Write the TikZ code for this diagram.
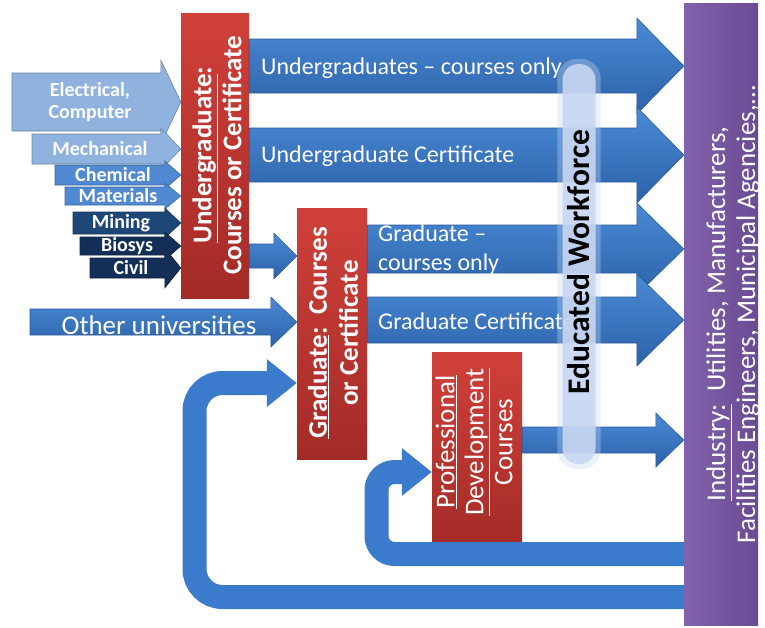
\documentclass[tikz,border=0pt]{standalone}
\usepackage{fontspec}
\setmainfont{Carlito}
\usetikzlibrary{positioning,calc,arrows.meta}
\definecolor{FlowBlue}{HTML}{3A7BCB}
\definecolor{FlowTop}{HTML}{4A8AD6}
\definecolor{FlowBot}{HTML}{2C62A8}
\definecolor{FlowEdge}{HTML}{2A5A98}
\definecolor{RedTop}{HTML}{D0403A}
\definecolor{RedBot}{HTML}{A32B27}
\definecolor{IndLeft}{HTML}{8262AC}
\definecolor{IndRight}{HTML}{6A4A92}
\definecolor{EWBlue}{HTML}{C7D6F1}
\definecolor{DeptLight}{HTML}{8FB2DE}
\definecolor{DeptMid}{HTML}{5089D1}
\definecolor{DeptDark}{HTML}{1E4677}
\definecolor{DeptDeep}{HTML}{132F57}

% tail, tip, body half height, head half height, head length
\newcommand{\blockarrow}[6][]{%
  \path[#1] ($(#2)+(0,#4)$) -- ($(#3)+(-#6,#4)$) -- ($(#3)+(-#6,#5)$) -- (#3)
    -- ($(#3)+(-#6,-#5)$) -- ($(#3)+(-#6,-#4)$) -- ($(#2)+(0,-#4)$) -- cycle;}

\begin{document}
\begin{tikzpicture}[x=1pt, y=-1pt,
  flow/.style={top color=FlowTop, bottom color=FlowBot, draw=FlowEdge, line width=0.6pt},
  dept/.style={fill=#1, draw=#1!75!black, line width=0.6pt},
  depttext/.style={text=white, align=center, inner sep=0pt, font=\fontsize{20}{22}\selectfont\bfseries},
  flowtext/.style={anchor=west, text=white, align=left, inner sep=0pt, font=\fontsize{24}{29}\selectfont},
  redbox/.style={top color=RedTop, bottom color=RedBot, inner sep=0pt},
  boxtext/.style={rotate=90, text=white, align=center, inner sep=0pt},
  feedback/.style={draw=FlowBlue, line width=24pt, rounded corners=28pt, -{Triangle[length=30pt,width=46pt]}}]
  \useasboundingbox (0,0) rectangle (765,627);

  % boxes
  \node[redbox, minimum width=68pt, minimum height=285pt] (ug) at (215,155.5) {};
  \node[redbox, minimum width=70pt, minimum height=251pt] (grad) at (332,333.5) {};
  \node[redbox, minimum width=90pt, minimum height=196pt] (pd) at (477,450) {};
  \node[left color=IndLeft, right color=IndRight, inner sep=0pt, minimum width=74pt, minimum height=622pt] (ind) at (721,314) {};

  % departments into the undergraduate box
  \blockarrow[dept=DeptLight]{12,102}{ug.west |- 0,102}{29}{42}{20}
  \blockarrow[dept=DeptLight]{32,149}{ug.west |- 0,149}{15}{21}{20}
  \blockarrow[dept=DeptMid]{55,175}{ug.west |- 0,175}{10}{14}{16}
  \blockarrow[dept=DeptMid]{65,196}{ug.west |- 0,196}{9}{13}{16}
  \blockarrow[dept=DeptDark]{73,223}{ug.west |- 0,223}{11}{15}{16}
  \blockarrow[dept=DeptDeep]{80,246}{ug.west |- 0,246}{9}{14}{16}
  \blockarrow[dept=DeptDeep]{90,268}{ug.west |- 0,268}{10}{20}{16}
  \node[depttext] (elec) at (90,102) {Electrical,\\Computer};
  \node[depttext] (mech) at (100,149) {Mechanical};
  \node[depttext] (chem) at (113,175) {Chemical};
  \node[depttext] (mat) at (118,196) {Materials};
  \node[depttext] (mining) at (121,223) {Mining};
  \node[depttext] (biosys) at (127,246) {Biosys};
  \node[depttext] (civil) at (131,268) {Civil};

  % flows to industry
  \blockarrow[flow]{ug.east |- 0,66}{ind.west |- 0,66}{27}{48}{47}
  \blockarrow[flow]{ug.east |- 0,155}{ind.west |- 0,155}{27}{48}{47}
  \blockarrow[flow]{grad.east |- 0,249}{ind.west |- 0,249}{24}{46}{47}
  \blockarrow[flow]{grad.east |- 0,320}{ind.west |- 0,320}{23}{46}{47}
  \blockarrow[flow]{pd.east |- 0,440}{ind.west |- 0,440}{13}{27}{28}
  \blockarrow[flow]{ug.east |- 0,256}{grad.west |- 0,256}{12}{23}{23}
  \blockarrow[flow]{30,322}{grad.west |- 0,322}{13}{25}{26}
  \node[flowtext] (ugcourses) at (261,68) {Undergraduates -- courses only};
  \node[flowtext] (ugcert) at (261,156) {Undergraduate Certificate};
  \node[flowtext] (gradcourses) at (378,250) {Graduate --\\courses only};
  \node[flowtext] (gradcert) at (378,321) {Graduate Certificate};
  \node[text=white, inner sep=0pt, font=\fontsize{27}{30}\selectfont] (other) at (159,325) {Other universities};

  % feedback from industry
  \draw[feedback] (ind.west |- 0,597) -- (194.5,597) -- (194.5,383) -- (grad.west |- 0,383);
  \draw[feedback, rounded corners=18pt] (ind.west |- 0,554) -- (376.5,554) -- (376.5,472) -- (pd.west |- 0,472);

  % educated workforce
  \node[fill=EWBlue, opacity=0.9, rounded corners=16pt, minimum width=33pt, minimum height=400pt] (ew) at (579,264) {};
  \fill[EWBlue, opacity=0.35, rounded corners=20pt] ($(ew.south west)+(-5,5)$) rectangle ($(ew.north east)+(5,-5)$);
  \node[rotate=90, inner sep=0pt, font=\fontsize{31.5}{34}\selectfont\bfseries] (ewtext) at (579,262) {Educated Workforce};

  % box labels
  \node[boxtext, font=\fontsize{27}{30}\selectfont\bfseries] (ugtext) at (217,155) {\underline{Undergraduate}:\\Courses or Certificate};
  \node[boxtext, font=\fontsize{27}{31}\selectfont\bfseries] (gradtext) at (333,333) {\underline{Graduate}:\ \ Courses\\or Certificate};
  \node[boxtext, font=\fontsize{27}{29}\selectfont] (pdtext) at (474,442) {\underline{Professional}\\\underline{Development}\\Courses};
  \node[boxtext, font=\fontsize{27}{30}\selectfont] (indtext) at (733,314) {\underline{Industry:}\ \ Utilities, Manufacturers,\\Facilities Engineers, Municipal Agencies,...};
\end{tikzpicture}
\end{document}
